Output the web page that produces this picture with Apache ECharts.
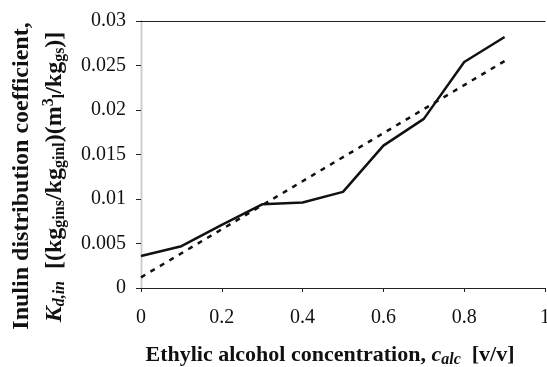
<!DOCTYPE html>
<html><head><meta charset="utf-8">
<script src="https://cdn.jsdelivr.net/npm/echarts@6/dist/echarts.min.js"></script>
<style>html,body{margin:0;padding:0;background:#fff}#c{width:547px;height:367px}</style>
</head><body><div id="c"></div>
<script>
const xValues = [0, 0.1, 0.2, 0.3, 0.4, 0.5, 0.6, 0.7, 0.8, 0.9];
const kdValues = [0.0036, 0.0047, 0.0071, 0.0094, 0.0096, 0.0108, 0.0160, 0.0190, 0.0254, 0.0282];
const fitX = [0, 0.9];
const fitY = [0.0012, 0.0255];
const yTicks = [0, 0.005, 0.01, 0.015, 0.02, 0.025, 0.03];
const xTicks = [0, 0.2, 0.4, 0.6, 0.8, 1];

const serif = '"Liberation Serif","DejaVu Serif",serif';
const chart = echarts.init(document.getElementById('c'));
const sub = {fontFamily: serif, fontWeight: 'bold', fontSize: 16, padding: [10, 0, 0, 0]};
const subI = Object.assign({}, sub, {fontStyle: 'italic'});
const sup = {fontFamily: serif, fontWeight: 'bold', fontSize: 16, padding: [0, 0, 12, 0]};
chart.setOption({
  animation: false,
  grid: {left: 141, right: 2, top: 21, bottom: 79, outerBoundsMode: 'none', containLabel: false},
  xAxis: [{
    type: 'value', min: 0, max: 1, interval: 0.2,
    axisLine: {show: true, onZero: false, lineStyle: {color: '#222', width: 1.2}},
    axisTick: {show: true, inside: false, length: 4, lineStyle: {color: '#222'}},
    splitLine: {show: false},
    axisLabel: {fontFamily: serif, fontSize: 20, color: '#111', margin: 20, showMaxLabel: true,
      formatter: v => xTicks.includes(Math.round(v * 10) / 10) ? String(Math.round(v * 10) / 10) : ''}
  }, {
    type: 'value', min: 0, max: 1, position: 'top',
    axisLine: {show: true, onZero: false, lineStyle: {color: '#222', width: 1.2}},
    axisTick: {show: false}, axisLabel: {show: false}, splitLine: {show: false}
  }],
  yAxis: [{
    type: 'value', min: 0, max: 0.03, interval: 0.005,
    axisLine: {show: true, lineStyle: {color: '#222', width: 1.2}},
    axisTick: {show: true, length: 5, lineStyle: {color: '#222'}},
    splitLine: {show: false},
    axisLabel: {fontFamily: serif, fontSize: 20, color: '#111', margin: 15,
      formatter: v => { const t = yTicks.find(a => Math.abs(a - v) < 1e-9); return t === undefined ? '' : String(+t.toFixed(3)); }}
  }, {
    type: 'value', min: 0, max: 0.03, position: 'right',
    axisLine: {show: true, lineStyle: {color: '#ccc', width: 1}},
    axisTick: {show: false}, axisLabel: {show: false}, splitLine: {show: false}
  }],
  series: [
    {type: 'line', data: xValues.map((x, i) => [x, kdValues[i]]), symbol: 'none',
     lineStyle: {color: '#111', width: 2.5}},
    {type: 'line', data: fitX.map((x, i) => [x, fitY[i]]), symbol: 'none',
     lineStyle: {color: '#111', width: 2.5, type: [5, 6]}}
  ],
  graphic: [
    {type: 'text', x: 22, y: 176, rotation: Math.PI / 2,
     style: {text: 'Inulin distribution coefficient,', font: 'bold 24px ' + serif, fill: '#111', align: 'center', verticalAlign: 'middle'}},
    {type: 'text', x: 55, y: 177, rotation: Math.PI / 2,
     style: {
       text: '{ki|K}{si|d,in}{b|  [(kg}{s|gins}{b|/kg}{s|ginl}{b|)(m}{p|3}{s|l}{b|/kg}{s|gs}{b|)]}',
       align: 'center', verticalAlign: 'middle', fill: '#111',
       rich: {
         ki: {fontFamily: serif, fontWeight: 'bold', fontStyle: 'italic', fontSize: 24},
         b: {fontFamily: serif, fontWeight: 'bold', fontSize: 24},
         s: sub, si: subI, p: sup
       }
     }},
    {type: 'text', x: 330, y: 355,
     style: {
       text: '{b|Ethylic alcohol concentration, }{i|c}{si|alc}{b|  [v/v]}',
       align: 'center', verticalAlign: 'middle', fill: '#111',
       rich: {
         b: {fontFamily: serif, fontWeight: 'bold', fontSize: 22},
         i: {fontFamily: serif, fontWeight: 'bold', fontStyle: 'italic', fontSize: 22},
         si: subI
       }
     }}
  ]
});
</script></body></html>
